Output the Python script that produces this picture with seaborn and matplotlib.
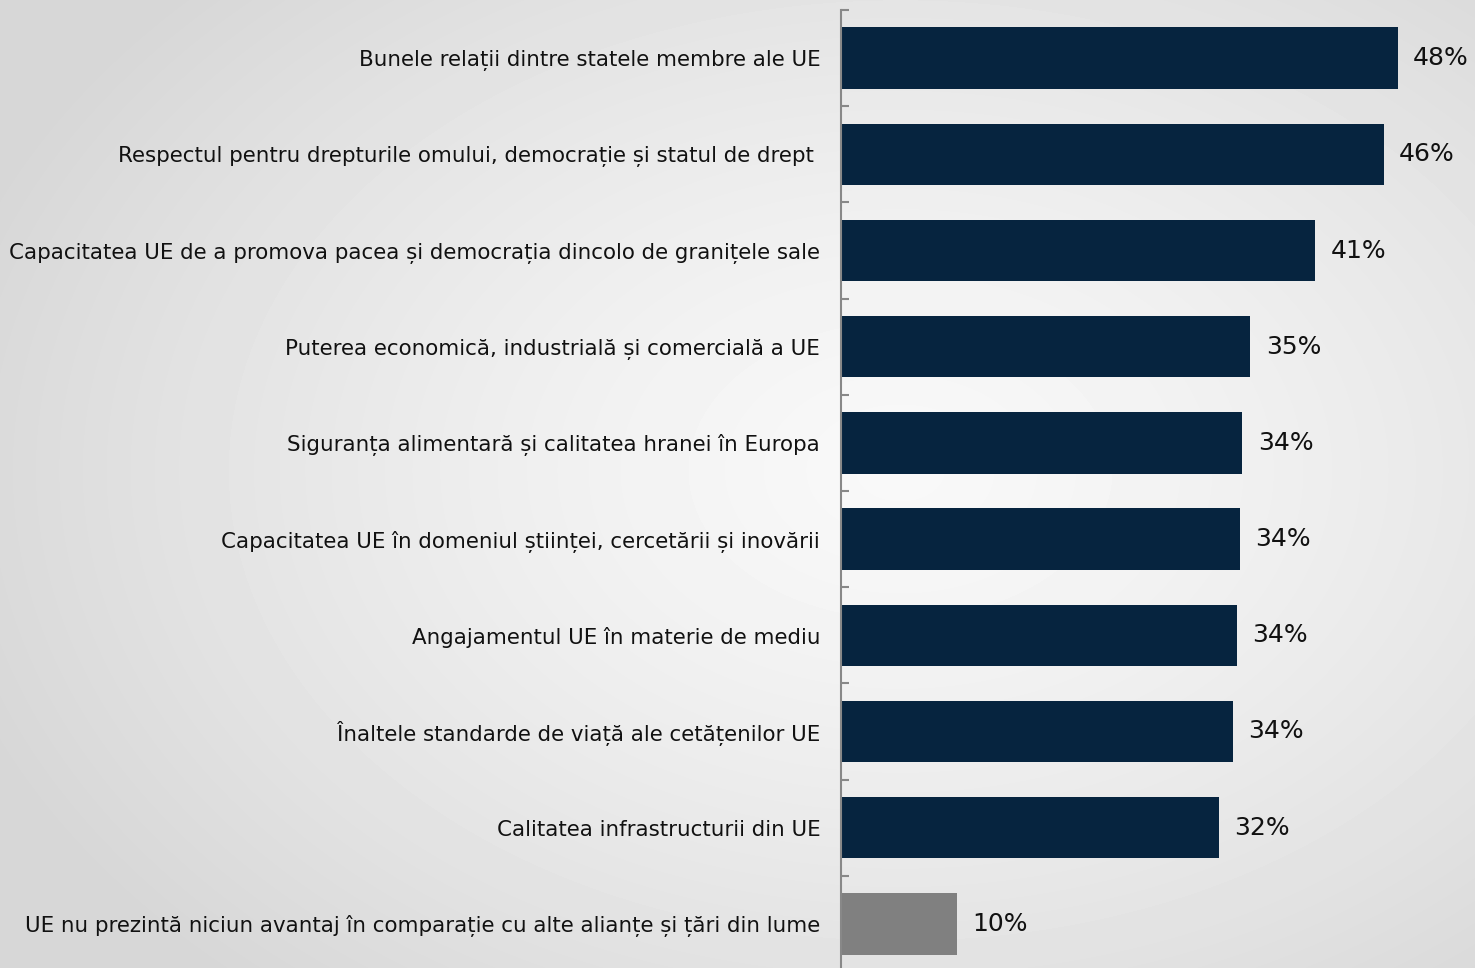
import numpy as np
import matplotlib
matplotlib.use("Agg")
import matplotlib.pyplot as plt
import matplotlib.transforms as mtransforms
import seaborn as sns
import pandas as pd

categories = [
    "Bunele relații dintre statele membre ale UE",
    "Respectul pentru drepturile omului, democrație și statul de drept ",
    "Capacitatea UE de a promova pacea și democrația dincolo de granițele sale",
    "Puterea economică, industrială și comercială a UE",
    "Siguranța alimentară și calitatea hranei în Europa",
    "Capacitatea UE în domeniul științei, cercetării și inovării",
    "Angajamentul UE în materie de mediu",
    "Înaltele standarde de viață ale cetățenilor UE",
    "Calitatea infrastructurii din UE",
    "UE nu prezintă niciun avantaj în comparație cu alte alianțe și țări din lume",
]
values = [48.0, 46.8, 40.9, 35.3, 34.6, 34.4, 34.1, 33.8, 32.6, 10.0]
value_labels = ["48%", "46%", "41%", "35%", "34%", "34%", "34%", "34%", "32%", "10%"]
bar_colors = ["#06243f"] * 9 + ["#808080"]

sns.set_theme(style="white")
plt.rcParams["font.family"] = ["DejaVu Sans"]

W, H = 1475, 968
fig = plt.figure(figsize=(W / 100, H / 100), dpi=100)

# radial gradient background
bg = fig.add_axes([0, 0, 1, 1], zorder=-10)
yy, xx = np.mgrid[0:H, 0:W]
cx, cy = 900, 470
r = np.sqrt(((xx - cx) / 1000.0) ** 2 + ((yy - cy) / 700.0) ** 2)
r = np.clip(r, 0, 1)
light, dark = 0.975, 0.84
img = light + (dark - light) * r ** 1.3
bg.imshow(img, cmap="gray", vmin=0, vmax=1, aspect="auto", extent=[0, 1, 0, 1])
bg.set_axis_off()

df = pd.DataFrame({"cat": categories, "val": values})
left = 841 / W
top = 1 - 10 / H
ax = fig.add_axes([left, 0, 1 - left, top])
ax.patch.set_alpha(0)

sns.barplot(data=df, x="val", y="cat", hue="cat", palette=bar_colors,
            legend=False, width=0.64, orient="h", ax=ax, saturation=1,
            linewidth=0, edgecolor="none")

step = 96.2
ax.set_ylim(-0.5 + (top * H) / step, -0.5)
ax.set_xlim(0, (W - 841) / 11.6)

for c, lab in zip(ax.containers, value_labels):
    t = ax.bar_label(c, labels=[lab], padding=11, fontsize=18, color="#111111")
    for tt in t:
        tt.set_va("center")
        tt.set_transform(tt.get_transform() + mtransforms.ScaledTranslation(0, -2 / 100, fig.dpi_scale_trans))

for s in ["top", "right", "bottom"]:
    ax.spines[s].set_visible(False)
ax.spines["left"].set_color("#888888")
ax.spines["left"].set_linewidth(1.5)

ax.set_xticks([])
ax.set_xlabel("")
ax.set_ylabel("")
ax.set_yticks(range(len(categories)))
ax.set_yticklabels(categories, fontsize=15.4, color="#111111")
ax.tick_params(axis="y", which="major", left=True, length=0, pad=15)
ax.set_yticks(np.arange(-0.5, len(categories) - 0.6, 1.0), minor=True)
ax.tick_params(axis="y", which="minor", left=True, length=6, width=1.5,
               color="#888888", direction="in")

fig.savefig("out.png", dpi=100)
